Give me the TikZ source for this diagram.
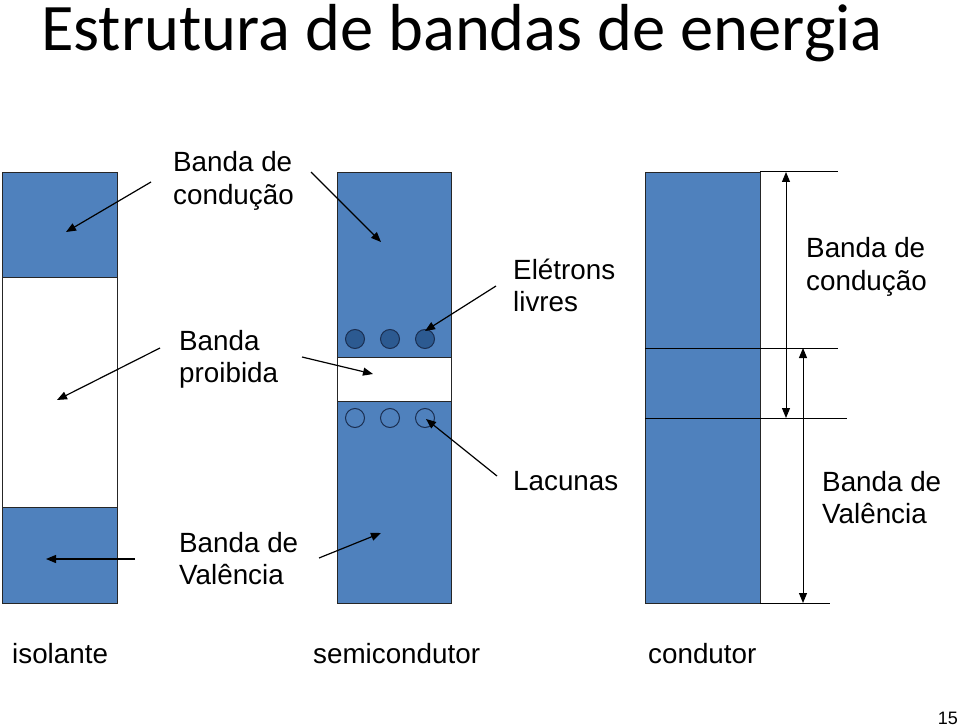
\documentclass[tikz,border=0pt]{standalone}
\usepackage{fontspec}
\setmainfont{Liberation Sans}
\newfontfamily\titlefont{Carlito}
\usetikzlibrary{arrows.meta}
\definecolor{bandblue}{HTML}{4F81BD}
\definecolor{elecfill}{HTML}{2C5A91}
\definecolor{navyline}{HTML}{1A2E50}
\newcommand\twolines[2]{\vtop{\baselineskip=32.5pt\hbox{#1}\hbox{#2}}}
\tikzset{
  band/.style={fill=bandblue,draw=black!85,line width=0.9pt},
  gap/.style={fill=white,draw=black!85,line width=0.9pt},
  lbl/.style={anchor=base west,inner sep=0pt,font=\fontsize{27.8}{32}\selectfont},
  pointer/.style={line width=1.2pt,-{Triangle[length=10pt,width=8pt]}},
  dimarrow/.style={line width=1pt,{Triangle[length=10pt,width=8pt]}-{Triangle[length=10pt,width=8pt]}},
  guide/.style={line width=1pt},
  electron/.style={circle,minimum size=19pt,inner sep=0pt,fill=elecfill,draw=navyline,line width=1pt},
  hole/.style={circle,minimum size=19pt,inner sep=0pt,draw=navyline,line width=1pt},
}
\begin{document}
\begin{tikzpicture}[x=1pt,y=-1pt]
\useasboundingbox (0,0) rectangle (960,727);
% title
\node[anchor=base west,inner sep=0pt,font=\titlefont\fontsize{66.5}{72}\selectfont] (title) at (41,51) {Estrutura de bandas de energia};
% isolante column
\draw[band] (2,172) rectangle (117,277);
\draw[gap] (2,277) rectangle (117,507);
\draw[band] (2,507) rectangle (117,603);
% semicondutor column
\draw[band] (337,172) rectangle (451,357);
\draw[gap] (337,357) rectangle (451,401);
\draw[band] (337,401) rectangle (451,603);
\node[electron] (e1) at (355,339) {};
\node[electron] (e2) at (390,339) {};
\node[electron] (e3) at (425,339) {};
\node[hole] (h1) at (355,418) {};
\node[hole] (h2) at (390,418) {};
\node[hole] (h3) at (425,418) {};
% condutor column
\draw[band] (645,172) rectangle (760,603);
\coordinate (ctop1) at (760,172); \coordinate (ctop2) at (838,172);
\coordinate (cmid1) at (645,348); \coordinate (cmid2) at (838,348);
\coordinate (clow1) at (645,418); \coordinate (clow2) at (847,418);
\coordinate (cbot1) at (760,603); \coordinate (cbot2) at (830,603);
\draw[guide] (ctop1) -- (ctop2);
\draw[guide] (cmid1) -- (cmid2);
\draw[guide] (clow1) -- (clow2);
\draw[guide] (cbot1) -- (cbot2);
\coordinate (da1) at (786,172); \coordinate (da2) at (786,418);
\coordinate (db1) at (803,348); \coordinate (db2) at (803,603);
\draw[dimarrow] (da1) -- (da2);
\draw[dimarrow] (db1) -- (db2);
% labels
\node[lbl] (lcond) at (173,172) {\twolines{Banda de}{condução}};
\node[lbl] (lproib) at (179,350) {\twolines{Banda}{proibida}};
\node[lbl] (lval) at (179,552) {\twolines{Banda de}{Valência}};
\node[lbl] (lelet) at (513,279) {\twolines{Elétrons}{livres}};
\node[lbl] (llac) at (513,490) {Lacunas};
\node[lbl] (rcond) at (806,258) {\twolines{Banda de}{condução}};
\node[lbl] (rval) at (822,491) {\twolines{Banda de}{Valência}};
\node[lbl] (liso) at (12,663) {isolante};
\node[lbl] (lsemi) at (313,663) {semicondutor};
\node[lbl] (lcondu) at (648,663) {condutor};
\node[anchor=base east,inner sep=0pt,font=\fontsize{18}{20}\selectfont] (pnum) at (958,724) {15};
% pointer arrows
\coordinate (s1) at (151,182); \coordinate (t1) at (66,232);
\coordinate (s2) at (160,348); \coordinate (t2) at (57,400);
\coordinate (s3) at (135,559); \coordinate (t3) at (46,559);
\coordinate (s4) at (311,172); \coordinate (t4) at (381,242);
\coordinate (s5) at (302,357); \coordinate (t5) at (373,374);
\coordinate (s6) at (319,558); \coordinate (t6) at (381,533);
\coordinate (s7) at (496,286); \coordinate (t7) at (425,331);
\coordinate (s8) at (497,476); \coordinate (t8) at (426,419);
\foreach \i in {1,...,8} {\draw[pointer] (s\i) -- (t\i);}
\end{tikzpicture}
\end{document}
